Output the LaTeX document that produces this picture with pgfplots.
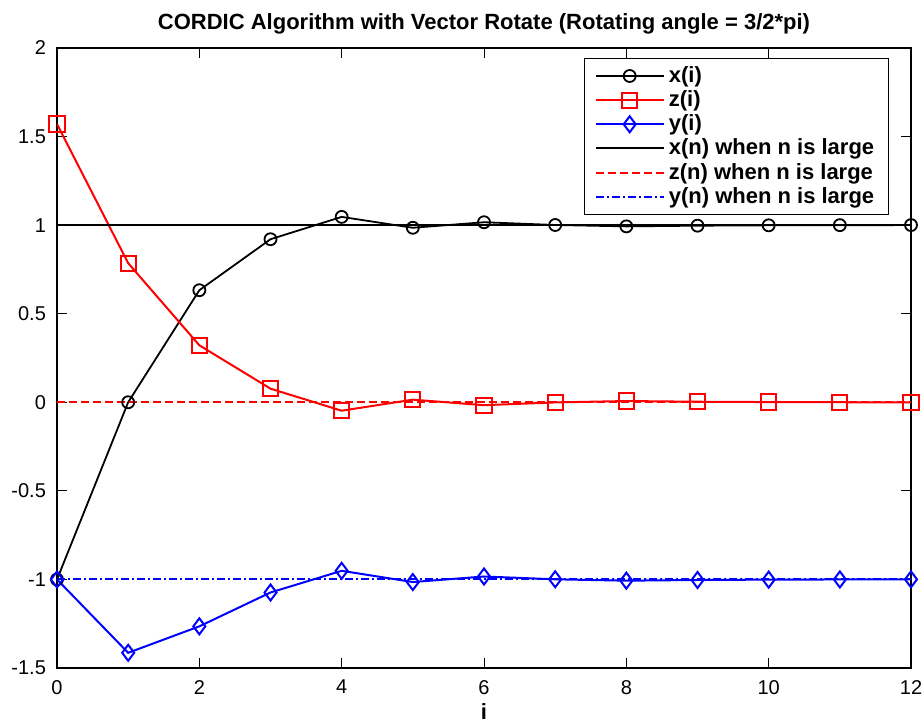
\documentclass[border=0pt]{standalone}
\usepackage{fontspec}
\setmainfont{Liberation Sans}
\usepackage{pgfplots}
\pgfplotsset{compat=1.18}
\begin{document}
\begin{tikzpicture}
\begin{axis}[
  scale only axis,
  width=427pt, height=310pt,
  xmin=0, xmax=12, ymin=-1.5, ymax=2,
  xtick={0,2,4,6,8,10,12},
  xticklabels={0,2,4,6,8,10,12},
  ytick={-1.5,-1,-0.5,0,0.5,1,1.5,2},
  yticklabels={-1.5,-1,-0.5,0,0.5,1,1.5,2},
  tick align=inside,
  major tick length=5pt,
  tick style={black, line width=0.5pt},
  axis line style={line width=0.6pt},
  ticklabel style={font=\fontsize{10}{11}\selectfont},
  xticklabel style={yshift=-2.5pt},
  yticklabel style={xshift=-2pt},
  title={CORDIC Algorithm with Vector Rotate (Rotating angle = 3/2*pi)},
  title style={font=\fontsize{11}{12}\selectfont\bfseries, at={(0.5,1)}, anchor=center, yshift=6pt},
  xlabel={i},
  xlabel style={font=\fontsize{11}{12}\selectfont\bfseries, at={(0.5,0)}, anchor=north, yshift=-14pt},
  legend style={at={(rel axis cs:0.974,0.984)}, anchor=north east,
    font=\fontsize{11}{12}\selectfont\bfseries, draw=black, line width=0.6pt,
    row sep=-1.4pt, inner xsep=5pt, inner ysep=2pt,
    cells={anchor=west}},
  legend image code/.code={
    \draw[mark repeat=2,mark phase=2] plot coordinates {(0cm,0cm) (0.6cm,0cm) (1.2cm,0cm)};
  },
]
\coordinate (sw) at (rel axis cs:0,0);
\coordinate (ne) at (rel axis cs:1,1);
\addplot[black, line width=0.9pt, mark=o, mark size=3pt, mark options={solid, line width=0.9pt}] coordinates {
(0,-1) (1,0) (2,0.6325) (3,0.9204) (4,1.0465) (5,0.9851) (6,1.0163) (7,1.0008) (8,0.9930) (9,0.9969) (10,0.9989) (11,0.9998) (12,1.0003)
};
\addlegendentry{x(i)}
\addplot[red, line width=1pt, mark=square, mark size=3.8pt, mark options={solid, line width=1pt}] coordinates {
(0,1.5708) (1,0.7854) (2,0.3218) (3,0.0768) (4,-0.0476) (5,0.0148) (6,-0.0164) (7,-0.0008) (8,0.0070) (9,0.0031) (10,0.0012) (11,0.0002) (12,-0.0003)
};
\addlegendentry{z(i)}
\addplot[blue, line width=1pt, mark=diamond, mark size=4pt, mark options={solid, line width=1pt}] coordinates {
(0,-1) (1,-1.4142) (2,-1.2649) (3,-1.0738) (4,-0.9514) (5,-1.0148) (6,-0.9835) (7,-0.9993) (8,-1.0071) (9,-1.0032) (10,-1.0012) (11,-1.0002) (12,-0.9997)
};
\addlegendentry{y(i)}
\addplot[black, line width=1pt] coordinates {(0,1) (12,1)};
\addlegendentry{x(n) when n is large}
\addplot[red, line width=1pt, dash pattern=on 4pt off 2pt] coordinates {(0,0) (12,0)};
\addlegendentry{z(n) when n is large}
\addplot[blue, line width=1pt, dash pattern=on 4pt off 1.5pt on 1pt off 1.5pt] coordinates {(0,-1) (12,-1)};
\addlegendentry{y(n) when n is large}
\end{axis}
\pgfresetboundingbox
\path ([shift={(-28.5pt,-29pt)}]sw) rectangle ([shift={(6.5pt,24pt)}]ne);
\end{tikzpicture}
\end{document}
